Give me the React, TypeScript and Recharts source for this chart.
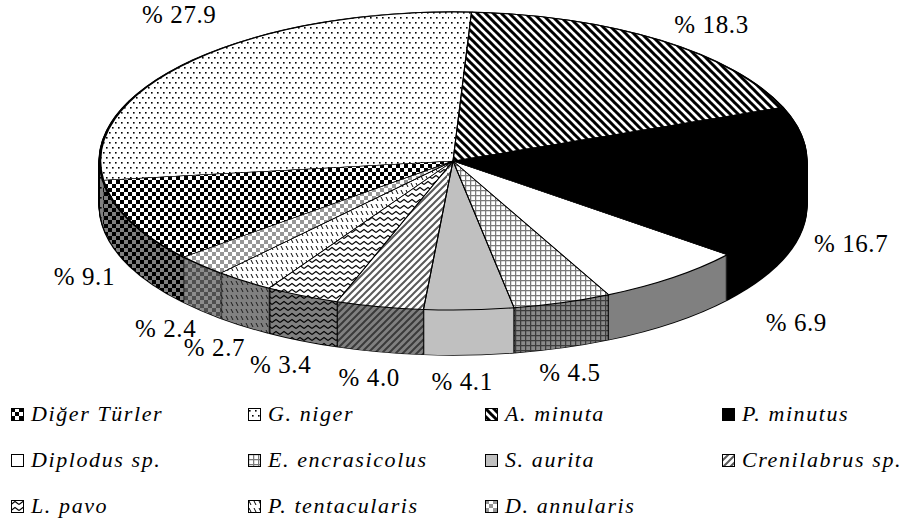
import React from "react";
import { PieChart, Pie, Cell } from "recharts";

// legend order = data order
const species = [
  "Diğer Türler",
  "G. niger",
  "A. minuta",
  "P. minutus",
  "Diplodus sp.",
  "E. encrasicolus",
  "S. aurita",
  "Crenilabrus sp.",
  "L. pavo",
  "P. tentacularis",
  "D. annularis",
];
const shares = [9.1, 27.9, 18.3, 16.7, 6.9, 4.5, 4.1, 4.0, 3.4, 2.7, 2.4];
const patternKeys = [
  "checker",
  "dots",
  "bslash",
  "solid",
  "plain",
  "grid",
  "gray",
  "slash",
  "zigzag",
  "dash",
  "graychecker",
];

const data = species.map((name, i) => ({ name, value: shares[i] }));

// geometry (screen px); the chart svg is squashed vertically by K to tilt the pie
const W = 910;
const H_SCREEN = 526;
const RX = 353;
const RY = 149;
const K = RY / RX;
const CX = 453;
const CY = 161;
const DEPTH = 45;
const H = H_SCREEN / K;
const SERIF = "Liberation Serif";

// A. minuta starts a little past 12 o'clock, going clockwise
const FIRST_SLICE = 3;
const lead = shares[0] + shares[1];
const START = 90 - FIRST_SLICE + (lead / 100) * 360;
const END = START - 360;

const arcLen = (v: number) => (RX * (v / 100) * 360 * Math.PI) / 180;
const RADIAL = 2 * RX + 40;

// hand-moved labels in the original
const labelNudge: Record<string, [number, number]> = {
  "G. niger": [22, -28],
  "A. minuta": [22, 5],
  "P. minutus": [0, 10],
  "Diplodus sp.": [92, -20],
  "E. encrasicolus": [-8, 0],
  "S. aurita": [-9, 1],
};

const fillFor = (kind: string, face: string, lg = false) => {
  if (kind === "solid") return "#000";
  if (kind === "plain") return face === "top" ? "#fff" : "#808080";
  if (kind === "gray") return "#c0c0c0";
  return `url(#p-${kind}-${face}${lg ? "-lg" : ""})`;
};

const patternBody = (kind: string, face: string) => {
  const side = face === "side";
  const bg = side ? "#808080" : "#fff";
  switch (kind) {
    case "checker":
      return {
        w: 8,
        h: 8,
        body: (
          <>
            <rect width={8} height={8} fill={bg} />
            <rect width={4} height={4} fill="#000" />
            <rect x={4} y={4} width={4} height={4} fill="#000" />
          </>
        ),
      };
    case "graychecker":
      return {
        w: 8,
        h: 8,
        body: (
          <>
            <rect width={8} height={8} fill={side ? "#8c8c8c" : "#fff"} />
            <rect width={4} height={4} fill={side ? "#4e4e4e" : "#969696"} />
            <rect x={4} y={4} width={4} height={4} fill={side ? "#4e4e4e" : "#969696"} />
          </>
        ),
      };
    case "dots":
      return {
        w: 6,
        h: 10,
        body: (
          <>
            <rect width={6} height={10} fill={bg} />
            <rect x={1} y={2} width={1.6} height={1.6} fill="#000" />
            <rect x={4} y={7} width={1.6} height={1.6} fill="#000" />
          </>
        ),
      };
    case "bslash":
      return {
        w: 8,
        h: 8,
        body: (
          <>
            <rect width={8} height={8} fill={bg} />
            <path d="M-1,7 l2,2 M0,0 l8,8 M7,-1 l2,2" stroke="#000" strokeWidth={3} />
          </>
        ),
      };
    case "slash":
      return {
        w: 7,
        h: 7,
        body: (
          <>
            <rect width={7} height={7} fill={bg} />
            <path
              d="M-1,1 l2,-2 M0,7 l7,-7 M6,8 l2,-2"
              stroke={side ? "#3a3a3a" : "#5a5a5a"}
              strokeWidth={2}
            />
          </>
        ),
      };
    case "grid":
      return {
        w: 5,
        h: 5,
        body: (
          <>
            <rect width={5} height={5} fill={side ? "#8a8a8a" : "#fff"} />
            <path d="M0.6,0 V5 M0,0.6 H5" stroke={side ? "#3c3c3c" : "#7a7a7a"} strokeWidth={1.3} />
          </>
        ),
      };
    case "zigzag":
      return {
        w: 8,
        h: 6,
        body: (
          <>
            <rect width={8} height={6} fill={bg} />
            <path d="M0,4.5 L4,1.5 L8,4.5" stroke="#000" strokeWidth={1.1} fill="none" />
          </>
        ),
      };
    case "dash":
      return {
        w: 5,
        h: 7,
        body: (
          <>
            <rect width={5} height={7} fill={bg} />
            <path d="M1,1 L3,5" stroke={side ? "#1a1a1a" : "#000"} strokeWidth={1} />
          </>
        ),
      };
    default:
      return { w: 4, h: 4, body: <rect width={4} height={4} fill={bg} /> };
  }
};

const Patterns = () => {
  const out: React.ReactNode[] = [];
  patternKeys.forEach((kind) => {
    ["top", "side"].forEach((face) => {
      const p = patternBody(kind, face);
      out.push(
        <pattern
          key={`${kind}-${face}`}
          id={`p-${kind}-${face}`}
          patternUnits="userSpaceOnUse"
          width={p.w}
          height={p.h}
          patternTransform={`scale(1, ${1 / K})`}
        >
          {p.body}
        </pattern>
      );
      if (face === "top")
        out.push(
          <pattern
            key={`${kind}-lg`}
            id={`p-${kind}-top-lg`}
            patternUnits="userSpaceOnUse"
            width={p.w}
            height={p.h}
          >
            {p.body}
          </pattern>
        );
    });
  });
  return (
    <svg width={0} height={0} style={{ position: "absolute" }}>
      <defs>{out}</defs>
    </svg>
  );
};

const renderLabel = (p: any) => {
  const a = (p.midAngle * Math.PI) / 180;
  const cos = Math.cos(a);
  const sin = Math.sin(a);
  const nudge = labelNudge[p.name] || [0, 0];
  const x = p.cx + (p.outerRadius + 50) * cos + nudge[0];
  const y = CY - (RY + 26) * sin + (sin < 0 ? DEPTH : 0) + nudge[1];
  return (
    <text
      transform={`translate(${x},${y / K}) scale(1,${1 / K})`}
      textAnchor="middle"
      dominantBaseline="central"
      fontFamily={SERIF}
      fontSize={25}
      letterSpacing={0.6}
      fill="#000"
    >
      {`% ${Number(p.value).toFixed(1)}`}
    </text>
  );
};

const sideLayers = Array.from({ length: DEPTH }, (_, i) => DEPTH - i);

const LEGEND_COLS = 4;

export default function App() {
  return (
    <div
      style={{
        position: "absolute",
        left: 0,
        top: 0,
        width: W,
        height: H_SCREEN,
        overflow: "hidden",
        background: "#fff",
      }}
    >
      <Patterns />
      <div
        style={{
          position: "absolute",
          left: 0,
          top: 0,
          width: W,
          height: H,
          transform: `scaleY(${K})`,
          transformOrigin: "0 0",
        }}
      >
        <PieChart width={W} height={H} margin={{ top: 0, right: 0, bottom: 0, left: 0 }}>
          {/* black backing gives the outline of the side wall */}
          {[...sideLayers, 0].map((j) => (
            <Pie
              key={`b${j}`}
              data={data}
              dataKey="value"
              cx={CX}
              cy={(CY + j) / K}
              outerRadius={RX + 1.5}
              startAngle={START}
              endAngle={END}
              fill="#000"
              stroke="none"
              isAnimationActive={false}
            />
          ))}
          {sideLayers.map((j) => (
            <Pie
              key={`s${j}`}
              data={data}
              dataKey="value"
              cx={CX}
              cy={(CY + j) / K}
              outerRadius={RX}
              startAngle={START}
              endAngle={END}
              stroke="#000"
              isAnimationActive={false}
            >
              {data.map((d, i) => (
                <Cell
                  key={i}
                  fill={fillFor(patternKeys[i], "side")}
                  stroke="#000"
                  strokeWidth={1.2}
                  strokeDasharray={`0 ${arcLen(d.value)} ${RADIAL}`}
                />
              ))}
            </Pie>
          ))}
          <Pie
            key="top"
            data={data}
            dataKey="value"
            cx={CX}
            cy={CY / K}
            outerRadius={RX}
            startAngle={START}
            endAngle={END}
            stroke="#000"
            isAnimationActive={false}
          >
            {data.map((d, i) => (
              <Cell
                key={i}
                fill={fillFor(patternKeys[i], "top")}
                stroke="#000"
                strokeWidth={2.6}
                strokeDasharray={`${arcLen(d.value)} ${RADIAL}`}
              />
            ))}
          </Pie>
          <Pie
            key="edges"
            data={data}
            dataKey="value"
            cx={CX}
            cy={CY / K}
            outerRadius={RX}
            startAngle={START}
            endAngle={END}
            fill="none"
            stroke="#000"
            label={renderLabel}
            labelLine={false}
            isAnimationActive={false}
          >
            {data.map((d, i) => (
              <Cell
                key={i}
                fill="none"
                stroke="#000"
                strokeWidth={1.1}
                strokeDasharray={`0 ${arcLen(d.value)} ${RADIAL}`}
              />
            ))}
          </Pie>
        </PieChart>
      </div>
      {species.map((name, i) => {
        const col = i % LEGEND_COLS;
        const row = Math.floor(i / LEGEND_COLS);
        return (
          <div
            key={name}
            style={{
              position: "absolute",
              left: 11 + col * 237,
              top: 402 + row * 46,
              height: 24,
              display: "flex",
              alignItems: "center",
              gap: 7,
              whiteSpace: "nowrap",
            }}
          >
            <svg width={13} height={13}>
              <rect
                x={0.5}
                y={0.5}
                width={12}
                height={12}
                fill={fillFor(patternKeys[i], "top", true)}
                stroke="#000"
                strokeWidth={1}
              />
            </svg>
            <span
              style={{
                fontFamily: SERIF,
                fontStyle: "italic",
                fontSize: 22,
                letterSpacing: 1.6,
                color: "#000",
              }}
            >
              {name}
            </span>
          </div>
        );
      })}
    </div>
  );
}
